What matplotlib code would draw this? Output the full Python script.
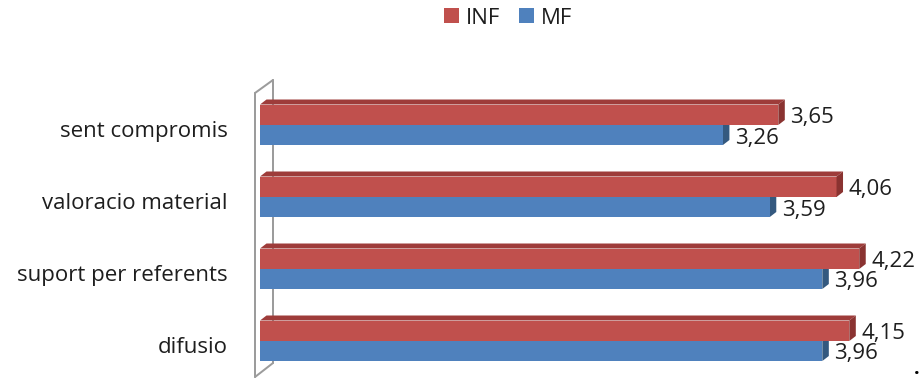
import matplotlib
matplotlib.use("Agg")
import matplotlib.pyplot as plt
from matplotlib.patches import Polygon, Patch

plt.rcParams["font.family"] = ["Open Sans", "DejaVu Sans"]

# Data
categories = ["sent compromis", "valoracio material", "suport per referents", "difusio"]
series_names = ["INF", "MF"]
inf_values = [3.65, 4.06, 4.22, 4.15]
mf_values = [3.26, 3.59, 3.96, 3.96]

# Colours
RED, RED_TOP, RED_SIDE = "#C0504D", "#9E3C3A", "#8A3331"
BLUE, BLUE_SIDE = "#4F81BD", "#34597F"
WALL = "#9C9C9C"
TEXT = "#1E1E1E"

# Layout: the axes fill the figure, scaled so that one data unit on x is
# PPU pixels and one category step on y is PITCH pixels.
W, H = 921, 379
X0, PPU = 260, 142.0
Y0, PITCH = 125, 72.0


def px_x(px):
    return (px - X0) / PPU


def px_y(py):
    return (py - Y0) / PITCH


fig = plt.figure(figsize=(W / 100, H / 100), dpi=100)
ax = fig.add_axes([0, 0, 1, 1])
ax.set_xlim(px_x(0), px_x(W))
ax.set_ylim(px_y(H), px_y(0))
ax.axis("off")

H_RED = 20.5 / PITCH
H_BLUE = 20.0 / PITCH
DX = 6.5 / PPU
DY = 5.0 / PITCH

# Side wall of the 3-D plot area
wall_lw = 2 * 72 / 100
wall_kw = dict(color=WALL, lw=wall_lw, zorder=1, solid_capstyle="round")
ax.plot([px_x(255), px_x(255)], [px_y(93), px_y(377)], **wall_kw)
ax.plot([px_x(255), px_x(273)], [px_y(93), px_y(80)], **wall_kw)
ax.plot([px_x(255), px_x(273)], [px_y(377), px_y(363)], **wall_kw)
ax.plot([px_x(273), px_x(273)], [px_y(80), px_y(363)], **wall_kw)

pos = list(range(len(categories)))

# Blue side faces sit behind the red front faces
for i, m in zip(pos, mf_values):
    ax.add_patch(Polygon([(m, i + H_BLUE), (m, i), (m + DX, i - DY), (m + DX, i + H_BLUE - DY)],
                         closed=True, facecolor=BLUE_SIDE, edgecolor="none", zorder=2))

ax.barh([i + H_BLUE / 2 for i in pos], mf_values, height=H_BLUE, color=BLUE, zorder=3)
ax.barh([i - H_RED / 2 for i in pos], inf_values, height=H_RED, color=RED, zorder=3)

for i, v in zip(pos, inf_values):
    top = i - H_RED
    ax.add_patch(Polygon([(0, top), (v, top), (v + DX, top - DY), (DX, top - DY)],
                         closed=True, facecolor=RED_TOP, edgecolor="none", zorder=3))
    ax.add_patch(Polygon([(v, i), (v, top), (v + DX, top - DY), (v + DX, i - DY)],
                         closed=True, facecolor=RED_SIDE, edgecolor="none", zorder=3))


def fmt(v):
    return f"{v:.2f}".replace(".", ",")


dx_pt = 12 * 0.72
dy_pt = -8.5 * 0.72
for i, v in zip(pos, inf_values):
    ax.annotate(fmt(v), xy=(v, i - H_RED / 2), xytext=(dx_pt, dy_pt), textcoords="offset points",
                ha="left", va="baseline", fontsize=16, color=TEXT, zorder=5)
for i, m in zip(pos, mf_values):
    ax.annotate(fmt(m), xy=(m, i + H_BLUE / 2), xytext=(dx_pt, dy_pt), textcoords="offset points",
                ha="left", va="baseline", fontsize=16, color=TEXT, zorder=5)

# Category labels
for i, name in zip(pos, categories):
    ax.text(px_x(228), i + 12 / PITCH, name, ha="right", va="baseline", fontsize=16, color=TEXT)

# Legend
handles = [Patch(facecolor=RED, edgecolor="none"), Patch(facecolor=BLUE, edgecolor="none")]
fig.legend(handles, series_names, loc="center", bbox_to_anchor=(508 / W, 1 - 18 / H), ncol=2,
           frameon=False, fontsize=16, handlelength=0.68, handleheight=0.68, handletextpad=0.3,
           columnspacing=0.85, borderpad=0, labelcolor=TEXT)

fig.text(917 / W, 0.0, ".", ha="center", va="bottom", fontsize=14, fontweight="bold", color="black")

fig.savefig("out.png", dpi=100)
